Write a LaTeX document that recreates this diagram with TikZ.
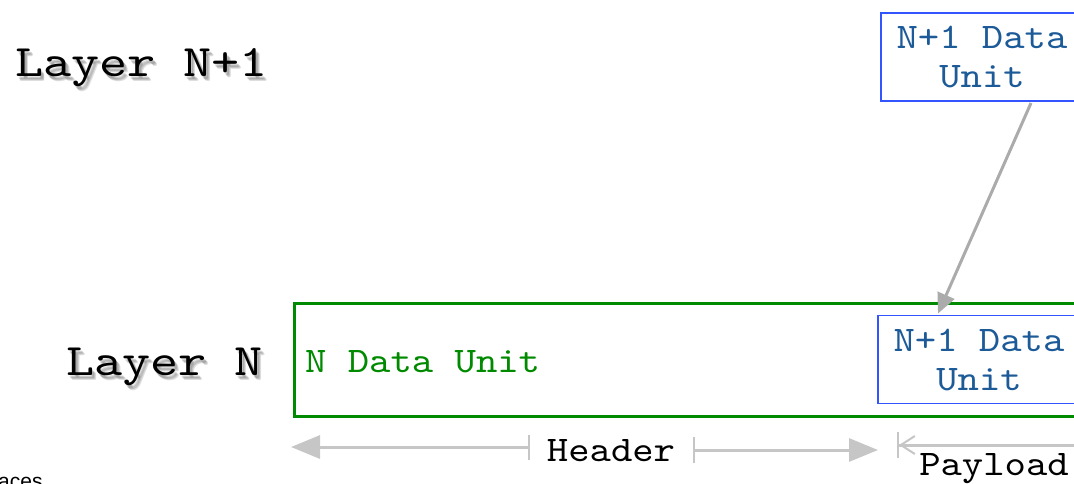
\documentclass[tikz,border=0pt]{standalone}
\usepackage{fontspec}
\newfontfamily\courS[FakeStretch=1.13]{lmmono10-regular.otf}
\newfontfamily\courL[FakeStretch=1.19]{lmmono10-regular.otf}
\newfontfamily\sansf{Liberation Sans}
\usetikzlibrary{arrows.meta}
\definecolor{boxblue}{HTML}{3355FF}
\definecolor{txtblue}{HTML}{1C5A98}
\definecolor{ngreen}{HTML}{008A00}
\definecolor{arrgray}{HTML}{ABABAB}
\definecolor{dimgray}{HTML}{C6C6C6}
\begin{document}
\begin{tikzpicture}[x=1pt,y=-1pt,
  layerlbl/.style={font=\courL\fontsize{45}{45}\selectfont, anchor=base west, inner sep=0, outer sep=0},
  shadowlbl/.style={layerlbl, text=black, text opacity=0.13},
  pdubox/.style={draw=boxblue, line width=1.4pt, text=txtblue, font=\courS\fontsize{36}{39}\selectfont,
    align=center, minimum width=202, minimum height=88, inner sep=0, outer sep=0},
  ndubox/.style={draw=ngreen, line width=3pt, minimum width=830, minimum height=113, inner sep=0, outer sep=0},
  ndulbl/.style={text=ngreen, font=\courS\fontsize{36}{39}\selectfont, anchor=base west, inner sep=0},
  dimlbl/.style={text=black, font=\courS\fontsize{36}{39}\selectfont, anchor=base, inner sep=0},
  link/.style={draw=arrgray, line width=3pt, -{Triangle[length=20pt,width=18pt]}},
  dimline/.style={draw=dimgray, line width=3pt},
]
\useasboundingbox (0,0) rectangle (1074,483);
\clip (0,0) rectangle (1074,483);

% layer labels with soft shadows
\foreach \dx/\dy [count=\i] in {3/4,4/5.5,2/3} {
  \node[shadowlbl] (sA\i) at (15+\dx,76+\dy) {Layer N+1};
  \node[shadowlbl] (sB\i) at (66+\dx,375+\dy) {Layer N};
}
\node[layerlbl] (layerA) at (15,76) {Layer N+1};
\node[layerlbl] (layerB) at (66,375) {Layer N};

% data units
\node[pdubox] (top) at (982,57) {N+1 Data\\Unit};
\node[ndubox, anchor=north west] (ndu) at (294,303) {};
\node[ndulbl] (ndulabel) at (305,372) {N Data Unit};
\node[pdubox] (inner) at (979,359.5) {N+1 Data\\Unit};

% encapsulation arrow
\draw[link] ([xshift=150pt,yshift=-2pt]top.south west) -- ([xshift=60pt,yshift=2pt]inner.north west);

% header dimension
\node[dimlbl] (header) at (611,461) {Header};
\coordinate (hL) at (291,447);
\coordinate (hLb) at (530,447);
\coordinate (hRb) at (693,450);
\coordinate (hR) at (878,450);
\draw[dimline, {Triangle[length=29pt,width=23pt]}-{Bar[width=25pt,line width=2pt]}] (hL) -- (hLb);
\draw[dimline, {Bar[width=26pt,line width=2pt]}-{Triangle[length=29pt,width=23pt]}] (hRb) -- (hR);

% payload dimension
\node[dimlbl] (payload) at (994,475) {Payload};
\coordinate (pL) at (897,445);
\coordinate (pR) at (1120,445);
\draw[dimline, {Bar[width=26pt,line width=2pt,sep=0pt]Straight Barb[length=14pt,width=18pt,line width=2pt]}-{Straight Barb[length=14pt,width=18pt]}] (pL) -- (pR);

% fragment of slide text
\node[font=\sansf\fontsize{21}{21}\selectfont, anchor=base west, inner sep=0] (frag) at (-2,488) {aces};
\end{tikzpicture}
\end{document}
